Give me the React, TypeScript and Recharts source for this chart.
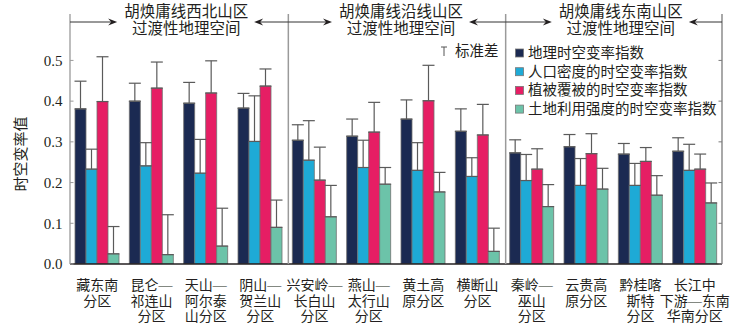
import { BarChart, Bar, XAxis, YAxis, ErrorBar } from "recharts";

const FONT = '"Liberation Serif", "Noto Sans CJK SC", serif';

const regions = [
  "藏东南\n分区",
  "昆仑—\n祁连山\n分区",
  "天山—\n阿尔泰\n山分区",
  "阴山—\n贺兰山\n分区",
  "兴安岭—\n长白山\n分区",
  "燕山—\n太行山\n分区",
  "黄土高\n原分区",
  "横断山\n分区",
  "秦岭—\n巫山\n分区",
  "云贵高\n原分区",
  "黔桂喀\n斯特\n分区",
  "长江中\n下游—东南\n华南分区",
];

const geoIndex = [0.381, 0.4, 0.395, 0.383, 0.304, 0.314, 0.356, 0.326, 0.273, 0.288, 0.27, 0.277];
const geoSd = [0.068, 0.044, 0.051, 0.036, 0.038, 0.042, 0.047, 0.055, 0.032, 0.03, 0.026, 0.033];
const popIndex = [0.233, 0.241, 0.223, 0.301, 0.255, 0.237, 0.23, 0.215, 0.205, 0.193, 0.193, 0.23];
const popSd = [0.049, 0.057, 0.083, 0.112, 0.097, 0.067, 0.068, 0.046, 0.064, 0.066, 0.054, 0.064];
const vegIndex = [0.399, 0.432, 0.42, 0.437, 0.206, 0.324, 0.401, 0.317, 0.233, 0.271, 0.252, 0.233];
const vegSd = [0.11, 0.064, 0.079, 0.042, 0.081, 0.073, 0.087, 0.075, 0.05, 0.049, 0.034, 0.037];
const landIndex = [0.025, 0.023, 0.044, 0.09, 0.116, 0.196, 0.177, 0.031, 0.141, 0.184, 0.169, 0.15];
const landSd = [0.067, 0.098, 0.093, 0.067, 0.077, 0.041, 0.048, 0.057, 0.054, 0.051, 0.048, 0.049];

const yTicks = [0, 0.1, 0.2, 0.3, 0.4, 0.5];

// header text centre is given as an offset from the zone's middle
const zones = [
  { lines: ["胡焕庸线西北山区", "过渡性地理空间"], from: 0, to: 4, shift: 7 },
  { lines: ["胡焕庸线沿线山区", "过渡性地理空间"], from: 4, to: 8, shift: 4 },
  { lines: ["胡焕庸线东南山区", "过渡性地理空间"], from: 8, to: 12, shift: 7 },
];

const series = [
  { key: "geo", err: "geoErr", name: "地理时空变率指数", color: "#1b2a52" },
  { key: "pop", err: "popErr", name: "人口密度的时空变率指数", color: "#1eaad6" },
  { key: "veg", err: "vegErr", name: "植被覆被的时空变率指数", color: "#e61e64" },
  { key: "land", err: "landErr", name: "土地利用强度的时空变率指数", color: "#6cc3a9" },
];

const data = regions.map((name, i) => ({
  name,
  geo: geoIndex[i],
  geoErr: [0, geoSd[i]],
  pop: popIndex[i],
  popErr: [0, popSd[i]],
  veg: vegIndex[i],
  vegErr: [0, vegSd[i]],
  land: landIndex[i],
  landErr: [0, landSd[i]],
}));

const W = 756;
const H = 334;
const PLOT_LEFT = 70;
const PLOT_RIGHT = 722;
const PLOT_TOP = 14;
const PLOT_BOTTOM = 264;
const band = (PLOT_RIGHT - PLOT_LEFT) / regions.length;

function RegionTick(props: any) {
  const { x, y, payload } = props;
  const lines = String(payload.value).split("\n");
  return (
    <g transform={`translate(${x},${y})`}>
      {lines.map((l, i) => (
        <text
          key={i}
          x={0}
          y={26 + i * 15.5}
          textAnchor="middle"
          fontSize={14}
          fontFamily={FONT}
          fill="#231f20"
        >
          {l}
        </text>
      ))}
    </g>
  );
}

function Arrow({ x1, x2, y }: { x1: number; x2: number; y: number }) {
  const dir = x2 > x1 ? 1 : -1;
  return (
    <g>
      <line x1={x1} y1={y} x2={x2 - dir * 6} y2={y} stroke="#333" strokeWidth={1} />
      <path
        d={`M${x2},${y} L${x2 - dir * 9},${y - 3.5} L${x2 - dir * 6},${y} L${x2 - dir * 9},${y + 3.5} Z`}
        fill="#231f20"
      />
    </g>
  );
}

function Overlay() {
  return (
    <svg
      width={W}
      height={H}
      style={{ position: "absolute", left: 0, top: 0, pointerEvents: "none" }}
    >
      {[4, 8].map((k) => (
        <line
          key={k}
          x1={PLOT_LEFT + k * band + 1}
          x2={PLOT_LEFT + k * band + 1}
          y1={PLOT_TOP}
          y2={PLOT_BOTTOM}
          stroke="#9a9a9a"
          strokeWidth={1.5}
        />
      ))}
      {zones.map((z, i) => {
        const x0 = PLOT_LEFT + z.from * band + (z.from > 0 ? 1 : 0);
        const x1 = PLOT_LEFT + z.to * band + (z.to < 12 ? 1 : 0);
        const cx = (x0 + x1) / 2 + z.shift;
        return (
          <g key={i}>
            <text x={cx} y={17} textAnchor="middle" fontSize={15.5} fontFamily={FONT} fill="#231f20">
              {z.lines[0]}
            </text>
            <text x={cx} y={34} textAnchor="middle" fontSize={15.5} fontFamily={FONT} fill="#231f20">
              {z.lines[1]}
            </text>
            <Arrow x1={x0} x2={cx - 69} y={22} />
            <Arrow x1={x1} x2={cx + 68} y={22} />
          </g>
        );
      })}
      <line x1={444} x2={444} y1={47} y2={56} stroke="#555" strokeWidth={1} />
      <line x1={441} x2={447} y1={47} y2={47} stroke="#555" strokeWidth={1} />
      <text x={455} y={56} fontSize={14.5} fontFamily={FONT} fill="#231f20">
        标准差
      </text>
      {series.map((s, i) => (
        <g key={s.key}>
          <rect
            x={515.5}
            y={49 + i * 18.7}
            width={8}
            height={8}
            fill={s.color}
            stroke="#777"
            strokeWidth={0.8}
          />
          <text x={528} y={58 + i * 18.7} fontSize={14.5} fontFamily={FONT} fill="#231f20">
            {s.name}
          </text>
        </g>
      ))}
      <text
        transform={`translate(26,154) rotate(-90)`}
        textAnchor="middle"
        fontSize={15}
        fontFamily={FONT}
        fill="#231f20"
      >
        时空变率值
      </text>
    </svg>
  );
}

export default function App() {
  return (
    <div
      style={{
        position: "absolute",
        left: 0,
        top: 0,
        width: W,
        height: H,
        background: "#fff",
      }}
    >
      <BarChart
        width={W}
        height={H}
        data={data}
        margin={{ top: PLOT_TOP, right: 0, bottom: 0, left: 0 }}
        barCategoryGap={5}
        barGap={0}
      >
        <XAxis
          dataKey="name"
          interval={0}
          height={H - PLOT_BOTTOM}
          tickLine={false}
          tickSize={0}
          tickMargin={0}
          axisLine={{ stroke: "#231f20", strokeWidth: 1.6 }}
          tick={<RegionTick />}
        />
        <YAxis
          yAxisId="left"
          width={PLOT_LEFT}
          domain={[0, 0.614]}
          allowDataOverflow
          ticks={yTicks}
          tickFormatter={(v: number) => v.toFixed(1)}
          tickSize={-3.5}
          tickMargin={11}
          axisLine={{ stroke: "#9a9a9a", strokeWidth: 1.3 }}
          tickLine={{ stroke: "#9a9a9a" }}
          tick={{ fill: "#231f20", fontSize: 15, fontFamily: FONT }}
        />
        <YAxis
          yAxisId="right"
          orientation="right"
          width={W - PLOT_RIGHT}
          domain={[0, 0.614]}
          allowDataOverflow
          ticks={yTicks}
          tickSize={-3.5}
          axisLine={{ stroke: "#7a7a7a", strokeWidth: 1.3 }}
          tickLine={{ stroke: "#7a7a7a" }}
          tick={() => <g />}
        />
        {series.map((s) => (
          <Bar
            key={s.key}
            yAxisId="left"
            dataKey={s.key}
            name={s.name}
            fill={s.color}
            stroke="#707070"
            strokeWidth={0.8}
            isAnimationActive={false}
          >
            <ErrorBar
              dataKey={s.err}
              width={6}
              stroke="#5a5a5a"
              strokeWidth={1.2}
              isAnimationActive={false}
            />
          </Bar>
        ))}
      </BarChart>
      <Overlay />
    </div>
  );
}
